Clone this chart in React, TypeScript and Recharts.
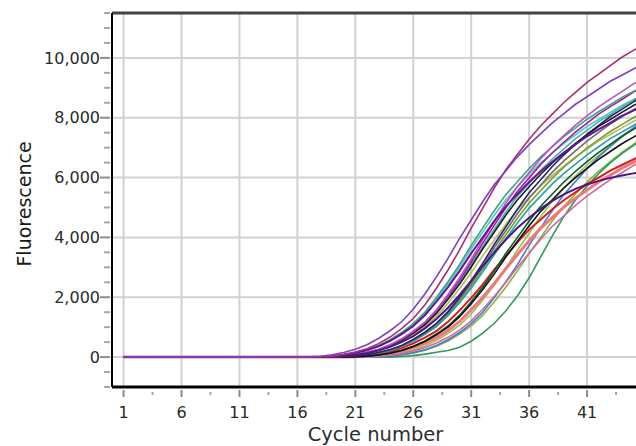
import { LineChart, Line, XAxis, YAxis, ReferenceLine, Label } from 'recharts';

// cycle 1 is the flat start, every curve is read from cycle 17 on
const cycles = [1, 17, 18, 19, 20, 21, 22, 23, 24, 25, 26, 27, 28, 29, 30, 31, 32, 33, 34, 35, 36, 37, 38, 39, 40, 41, 42, 43, 44, 45, 46];

const purple = [0, 10, 30, 80, 150, 260, 410, 620, 880, 1180, 1600, 2110, 2680, 3300, 3970, 4580, 5200, 5770, 6230, 6700, 7100, 7470, 7830, 8140, 8450, 8700, 8960, 9220, 9420, 9630, 9840];
const magenta = [0, 0, 10, 30, 90, 170, 280, 450, 670, 950, 1290, 1740, 2300, 2910, 3580, 4310, 4980, 5660, 6270, 6780, 7280, 7730, 8120, 8510, 8850, 9180, 9460, 9740, 10020, 10250, 10470];
const orchid = [0, 0, 0, 10, 30, 80, 150, 260, 410, 610, 870, 1170, 1580, 2090, 2650, 3260, 3930, 4540, 5150, 5710, 6170, 6630, 7040, 7400, 7750, 8060, 8360, 8620, 8870, 9130, 9330];
const tealGreen = [0, 0, 10, 30, 80, 150, 240, 390, 580, 820, 1120, 1500, 1990, 2520, 3100, 3730, 4320, 4900, 5430, 5870, 6300, 6690, 7030, 7370, 7660, 7950, 8200, 8440, 8680, 8880, 9070];
const teal = [0, 0, 0, 10, 30, 80, 140, 240, 380, 580, 820, 1100, 1490, 1970, 2500, 3070, 3700, 4270, 4850, 5380, 5810, 6240, 6620, 6960, 7300, 7580, 7870, 8110, 8350, 8590, 8780];
const navy = [0, 0, 0, 0, 10, 30, 80, 150, 250, 390, 590, 830, 1130, 1520, 2010, 2550, 3140, 3770, 4360, 4950, 5490, 5930, 6370, 6760, 7110, 7450, 7740, 8040, 8280, 8530, 8770];
const black = [0, 0, 0, 10, 30, 80, 140, 240, 380, 560, 800, 1080, 1460, 1930, 2440, 3010, 3620, 4180, 4750, 5260, 5690, 6110, 6490, 6820, 7140, 7430, 7710, 7940, 8180, 8410, 8600];
const violet = [0, 0, 0, 10, 30, 80, 150, 250, 400, 590, 840, 1140, 1530, 2030, 2570, 3170, 3810, 4410, 5000, 5540, 5990, 6440, 6830, 7180, 7520, 7820, 8120, 8370, 8610, 8860, 9060];
const gray = [0, 0, 0, 0, 10, 30, 80, 140, 240, 380, 570, 810, 1090, 1470, 1950, 2470, 3040, 3660, 4230, 4800, 5320, 5750, 6180, 6560, 6890, 7220, 7510, 7790, 8030, 8270, 8500];
const olive = [0, 0, 0, 0, 10, 30, 70, 140, 230, 370, 550, 780, 1060, 1430, 1890, 2390, 2940, 3540, 4090, 4650, 5150, 5570, 5980, 6350, 6670, 6990, 7270, 7540, 7770, 8000, 8230];
const khaki = [0, 0, 0, 10, 30, 70, 130, 220, 350, 530, 750, 1010, 1360, 1800, 2290, 2820, 3390, 3920, 4440, 4930, 5320, 5720, 6070, 6380, 6690, 6950, 7220, 7440, 7660, 7880, 8050];
const blue = [0, 0, 0, 0, 0, 0, 0, 10, 30, 80, 150, 240, 390, 580, 820, 1120, 1500, 1990, 2520, 3100, 3740, 4320, 4900, 5430, 5870, 6300, 6690, 7030, 7370, 7660, 7950];
const cyan = [0, 0, 0, 0, 10, 30, 70, 130, 220, 360, 530, 760, 1020, 1380, 1820, 2310, 2850, 3430, 3960, 4490, 4980, 5380, 5790, 6140, 6450, 6760, 7030, 7300, 7520, 7740, 7970];
const darkGreen = [0, 0, 0, 0, 0, 10, 30, 70, 140, 230, 360, 540, 770, 1040, 1400, 1850, 2340, 2880, 3470, 4000, 4550, 5040, 5450, 5850, 6210, 6530, 6840, 7110, 7380, 7610, 7830];
const black2 = [0, 0, 0, 0, 0, 10, 30, 70, 130, 220, 350, 520, 740, 1000, 1350, 1780, 2260, 2780, 3350, 3870, 4390, 4870, 5260, 5660, 6000, 6310, 6610, 6870, 7130, 7350, 7570];
const red = [0, 0, 0, 0, 10, 20, 60, 110, 190, 300, 460, 650, 870, 1180, 1560, 1980, 2430, 2930, 3380, 3840, 4260, 4600, 4940, 5240, 5510, 5780, 6000, 6230, 6420, 6610, 6800];
const salmon = [0, 0, 0, 0, 0, 10, 20, 60, 120, 190, 310, 460, 650, 890, 1190, 1580, 2000, 2460, 2960, 3430, 3890, 4310, 4660, 5010, 5310, 5580, 5850, 6080, 6310, 6510, 6700];
const pink = [0, 0, 0, 0, 0, 0, 10, 20, 60, 120, 200, 310, 470, 660, 900, 1210, 1600, 2030, 2500, 3000, 3470, 3940, 4370, 4720, 5070, 5380, 5660, 5930, 6160, 6400, 6590];
const plum = [0, 0, 0, 10, 30, 70, 130, 220, 340, 500, 700, 960, 1270, 1650, 2080, 2550, 3030, 3500, 3930, 4320, 4660, 4960, 5220, 5440, 5620, 5770, 5890, 5990, 6070, 6140, 6200];
const green = [0, 0, 0, 0, 0, 0, 0, 0, 0, 20, 50, 100, 160, 220, 330, 530, 800, 1130, 1550, 2050, 2650, 3350, 4050, 4700, 5250, 5720, 6130, 6490, 6800, 7070, 7330];
const lime = [0, 0, 0, 0, 0, 0, 0, 10, 30, 70, 140, 230, 360, 540, 770, 1040, 1400, 1850, 2340, 2880, 3470, 4000, 4550, 5040, 5450, 5850, 6210, 6530, 6840, 7110, 7380];
const indigo = [0, 0, 10, 30, 70, 140, 230, 360, 540, 770, 1040, 1400, 1850, 2340, 2880, 3470, 4000, 4550, 5040, 5450, 5850, 6210, 6530, 6840, 7110, 7380, 7610, 7830, 8060, 8240, 8420];
const aqua = [0, 0, 10, 30, 80, 140, 240, 380, 560, 800, 1080, 1460, 1930, 2440, 3010, 3620, 4180, 4750, 5260, 5690, 6110, 6490, 6820, 7140, 7430, 7710, 7940, 8180, 8410, 8600, 8790];
const leaf = [0, 0, 0, 0, 0, 0, 10, 30, 70, 140, 230, 370, 560, 790, 1070, 1440, 1910, 2420, 2980, 3580, 4140, 4700, 5210, 5630, 6050, 6420, 6740, 7070, 7350, 7630, 7860];

const xMajorTicks = [1, 6, 11, 16, 21, 26, 31, 36, 41];
const xMinorTicks = [3.5, 8.5, 13.5, 18.5, 23.5, 28.5, 33.5, 38.5, 43.5];
const yMajorTicks = [0, 2000, 4000, 6000, 8000, 10000];
const yMinorTicks = [-1000, -500, 500, 1000, 1500, 2500, 3000, 3500, 4500, 5000, 5500, 6500, 7000, 7500, 8500, 9000, 9500, 10500, 11000, 11500];

const series = [
  { key: 'leaf', values: leaf, color: '#98c050' },
  { key: 'lime', values: lime, color: '#86b43c' },
  { key: 'green', values: green, color: '#2e9a5c' },
  { key: 'blue', values: blue, color: '#4a7ac8' },
  { key: 'salmon', values: salmon, color: '#ec7a7a', width: 3 },
  { key: 'pink', values: pink, color: '#d06a9e' },
  { key: 'red', values: red, color: '#d41e1e', width: 2 },
  { key: 'khaki', values: khaki, color: '#b9b85c' },
  { key: 'olive', values: olive, color: '#78a030' },
  { key: 'cyan', values: cyan, color: '#2aa0a2' },
  { key: 'gray', values: gray, color: '#6e6e6e' },
  { key: 'darkGreen', values: darkGreen, color: '#0c5c2c' },
  { key: 'black2', values: black2, color: '#111111' },
  { key: 'aqua', values: aqua, color: '#5ac4c4' },
  { key: 'teal', values: teal, color: '#45b3a5' },
  { key: 'navy', values: navy, color: '#23246e' },
  { key: 'black', values: black, color: '#1e1e1e' },
  { key: 'violet', values: violet, color: '#a01ea6' },
  { key: 'tealGreen', values: tealGreen, color: '#3aa67e' },
  { key: 'orchid', values: orchid, color: '#b552c4' },
  { key: 'indigo', values: indigo, color: '#641496', width: 2 },
  { key: 'plum', values: plum, color: '#4a1880', width: 2 },
  { key: 'magenta', values: magenta, color: '#a8306e' },
  { key: 'purple', values: purple, color: '#7d40c0' },
];

const rows = cycles.map((cycle, i) => {
  const row: Record<string, number> = { cycle };
  series.forEach((s) => {
    row[s.key] = s.values[i];
  });
  return row;
});

const FONT = '"DejaVu Sans", Verdana, sans-serif';

function YTick(props: any) {
  const { x, y, payload } = props;
  const major = yMajorTicks.includes(payload.value);
  return (
    <g>
      <line
        x1={x - (major ? 12 : 8)}
        x2={x - 2}
        y1={y}
        y2={y}
        stroke={major ? '#8c8c8c' : '#a6a6a6'}
        strokeWidth={2}
      />
      {major && (
        <text x={x - 12} y={y} dy="0.36em" textAnchor="end" fontSize={16} fontFamily={FONT} fill="#2a2a2a">
          {payload.value.toLocaleString('en-US')}
        </text>
      )}
    </g>
  );
}

function XTick(props: any) {
  const { x, y, payload } = props;
  const major = xMajorTicks.includes(payload.value);
  return (
    <g>
      <line
        x1={x}
        x2={x}
        y1={y + (major ? 3 : 5)}
        y2={y + (major ? 10 : 8)}
        stroke={major ? '#8c8c8c' : '#a6a6a6'}
        strokeWidth={2}
      />
      {major && (
        <text x={x} y={y + 31} textAnchor="middle" fontSize={16} fontFamily={FONT} fill="#2a2a2a">
          {payload.value}
        </text>
      )}
    </g>
  );
}

export default function App() {
  return (
    <div
      style={{
        position: 'fixed',
        left: 0,
        top: 0,
        width: 636,
        height: 446,
        overflow: 'hidden',
        background: '#fff',
      }}
    >
      <LineChart width={700} height={446} data={rows} margin={{ top: 13, right: 55, bottom: 0, left: 0 }}>
        {xMajorTicks.map((t) => (
          <ReferenceLine key={`gx-${t}`} x={t} stroke="#d2d2d2" strokeWidth={2} zIndex={-50} />
        ))}
        {yMajorTicks.map((t) => (
          <ReferenceLine key={`gy-${t}`} y={t} stroke="#d2d2d2" strokeWidth={2} zIndex={-50} />
        ))}
        <ReferenceLine y={11500} stroke="#444" strokeWidth={3} />
        <XAxis
          dataKey="cycle"
          type="number"
          domain={[0, 46]}
          ticks={[...xMajorTicks, ...xMinorTicks].sort((a, b) => a - b)}
          interval={0}
          tick={<XTick />}
          tickLine={false}
          tickSize={0}
          tickMargin={0}
          height={59}
          axisLine={{ stroke: '#000', strokeWidth: 3 }}
          allowDataOverflow
        >
          <Label
            content={({ viewBox }: any) => (
              <text
                x={viewBox.x + viewBox.width / 2 - 3}
                y={viewBox.y + 54}
                textAnchor="middle"
                fontSize={19.5}
                fontFamily={FONT}
                fill="#2e2e2e"
              >
                Cycle number
              </text>
            )}
          />
        </XAxis>
        <YAxis
          type="number"
          domain={[-1000, 11500]}
          ticks={[...yMajorTicks, ...yMinorTicks].sort((a, b) => a - b)}
          interval={0}
          tick={<YTick />}
          tickLine={false}
          tickSize={0}
          tickMargin={0}
          width={112}
          axisLine={{ stroke: '#000', strokeWidth: 2 }}
          allowDataOverflow
        >
          <Label
            content={({ viewBox }: any) => {
              const cx = 31;
              const cy = viewBox.y + viewBox.height / 2 + 4;
              return (
                <text
                  x={cx}
                  y={cy}
                  textAnchor="middle"
                  transform={`rotate(-90, ${cx}, ${cy})`}
                  fontSize={19}
                  fontFamily={FONT}
                  fill="#1a1a1a"
                >
                  Fluorescence
                </text>
              );
            }}
          />
        </YAxis>
        {series.map((s) => (
          <Line
            key={s.key}
            dataKey={s.key}
            type="linear"
            stroke={s.color}
            strokeWidth={s.width ?? 1.6}
            dot={false}
            activeDot={false}
            isAnimationActive={false}
          />
        ))}
      </LineChart>
    </div>
  );
}
